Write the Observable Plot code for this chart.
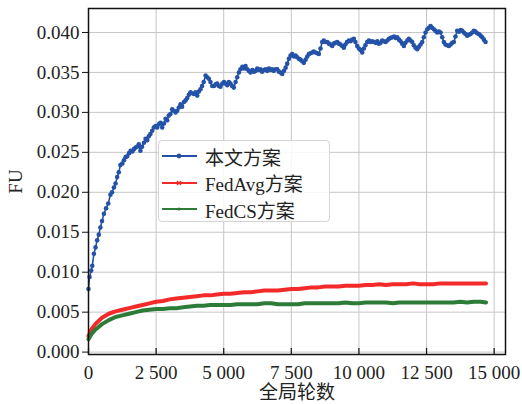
<!DOCTYPE html>
<html>
<head>
<meta charset="utf-8">
<script src="https://cdn.jsdelivr.net/npm/d3@7"></script>
<script src="https://cdn.jsdelivr.net/npm/@observablehq/plot@0.6"></script>
<style>
  body { margin: 0; background: #fff; }
  #wrap { position: relative; width: 522px; height: 404px; overflow: hidden; }
  #legend { position: absolute; left: 158px; top: 140px; width: 172px; height: 82px;
    box-sizing: border-box; border: 1px solid #d4d4d4; border-radius: 4px;
    background: rgba(255,255,255,0.85);
    font-family: 'Liberation Serif','Times New Roman','Noto Sans CJK SC',serif; font-size: 19px; color: #222; }
  .row { position: absolute; left: 0; height: 26px; display: flex; align-items: center; }
  .row svg { margin-left: 3px; }
  .row span { margin-left: 8px; white-space: nowrap; }
</style>
</head>
<body>
<div id="wrap">
  <div id="chart"></div>
  <div id="legend"></div>
</div>
<script>
// ---------- data ----------
const seriesNames = ["本文方案", "FedAvg方案", "FedCS方案"];
const seriesColors = ["#2452a8", "#f42a2a", "#2c7c38"];

const xTicks = [0, 2500, 5000, 7500, 10000, 12500, 15000];
const xTickLabels = ["0", "2 500", "5 000", "7 500", "10 000", "12 500", "15 000"];
const yTicks = [0, 0.005, 0.010, 0.015, 0.020, 0.025, 0.030, 0.035, 0.040];
const yTickLabels = ["0.000", "0.005", "0.010", "0.015", "0.020", "0.025", "0.030", "0.035", "0.040"];

const oursX = [0,40,100,140,200,260,320,380,440,500,570,650,730,810,870,940,1000,1060,1120,1180,1250,1310,1370,1430,1500,1560,1620,1680,1740,1800,1860,1920,1980,2050,2110,2170,2230,2290,2355,2415,2480,2540,2600,2660,2725,2790,2850,2910,2970,3030,3095,3150,3220,3280,3340,3400,3460,3530,3590,3650,3710,3770,3830,3900,3960,4020,4080,4140,4200,4260,4330,4390,4450,4510,4575,4640,4700,4760,4820,4880,4950,5010,5070,5130,5190,5250,5310,5374,5440,5500,5560,5620,5690,5750,5806,5870,5930,5990,6060,6120,6180,6240,6300,6360,6420,6490,6550,6610,6670,6730,6790,6850,6920,6980,7040,7100,7163,7230,7290,7348,7410,7470,7532,7600,7660,7717,7780,7840,7900,7963,8030,8090,8148,8210,8270,8330,8395,8460,8518,8580,8642,8700,8760,8827,8890,8950,9012,9070,9130,9197,9260,9320,9380,9443,9500,9560,9628,9690,9750,9813,9870,9937,10000,10060,10122,10180,10240,10307,10370,10430,10490,10554,10620,10680,10739,10800,10860,10920,10984,11050,11110,11170,11232,11300,11360,11416,11480,11540,11600,11661,11720,11790,11846,11910,11970,12030,12090,12155,12220,12280,12340,12400,12463,12530,12590,12648,12710,12771,12830,12894,12960,13018,13080,13140,13200,13260,13325,13390,13450,13510,13570,13634,13700,13760,13819,13880,13940,14004,14060,14127,14190,14250,14310,14370,14435,14500,14560,14620,14682];
const oursY = [.0079,.0094,.0102,.0108,.0123,.0131,.0140,.0147,.0156,.0164,.0173,.0180,.0186,.0197,.0200,.0206,.0211,.0219,.0225,.0234,.0236,.0240,.0244,.0245,.0249,.0252,.0251,.0254,.0256,.0257,.0260,.0252,.0257,.0262,.0267,.0265,.0270,.0273,.0277,.0281,.0283,.0281,.0285,.0287,.0281,.0286,.0292,.0290,.0296,.0298,.0304,.0302,.0300,.0302,.0306,.0310,.0307,.0313,.0315,.0318,.0322,.0325,.0324,.0323,.0325,.0321,.0326,.0329,.0333,.0338,.0346,.0344,.0342,.0338,.0333,.0333,.0335,.0336,.0333,.0332,.0336,.0338,.0336,.0334,.0338,.0336,.0333,.0331,.0338,.0344,.0350,.0354,.0357,.0355,.0358,.0354,.0352,.0350,.0353,.0351,.0352,.0355,.0353,.0354,.0351,.0353,.0354,.0352,.0355,.0353,.0354,.0352,.0354,.0354,.0351,.0350,.0348,.0352,.0356,.0361,.0367,.0371,.0373,.0370,.0371,.0369,.0367,.0366,.0364,.0362,.0366,.0370,.0373,.0374,.0375,.0376,.0375,.0374,.0373,.0380,.0388,.0390,.0388,.0388,.0386,.0385,.0383,.0386,.0387,.0388,.0386,.0385,.0383,.0381,.0385,.0388,.0390,.0389,.0391,.0392,.0388,.0383,.0380,.0378,.0375,.0380,.0384,.0388,.0390,.0388,.0389,.0388,.0387,.0389,.0386,.0387,.0390,.0389,.0388,.0390,.0392,.0393,.0394,.0395,.0393,.0394,.0391,.0389,.0386,.0383,.0387,.0390,.0392,.0390,.0388,.0384,.0381,.0379,.0382,.0385,.0388,.0394,.0400,.0404,.0406,.0408,.0406,.0404,.0402,.0400,.0401,.0400,.0394,.0388,.0385,.0384,.0383,.0385,.0387,.0388,.0395,.0402,.0401,.0403,.0402,.0400,.0398,.0396,.0397,.0398,.0400,.0402,.0401,.0399,.0398,.0396,.0394,.0391,.0388];

const baseX = [0,100,250,500,750,1000,1250,1500,1750,2000,2250,2500,2750,3000,3250,3500,3750,4000,4250,4500,4750,5000,5250,5500,5750,6000,6250,6500,6750,7000,7250,7500,7750,8000,8250,8500,8750,9000,9250,9500,9750,10000,10250,10500,10750,11000,11250,11500,11750,12000,12250,12500,12750,13000,13250,13500,13750,14000,14250,14500,14700];
const fedAvgY = [.0020,.0028,.0035,.0043,.0048,.0051,.0053,.0055,.0057,.0059,.0061,.0063,.0064,.0066,.0067,.0068,.0069,.0070,.0071,.0071,.0072,.0073,.0073,.0074,.0075,.0075,.0076,.0077,.0077,.0077,.0078,.0079,.0079,.0080,.0081,.0081,.0082,.0082,.0082,.0083,.0083,.0083,.0084,.0084,.0085,.0084,.0085,.0085,.0085,.0086,.0085,.0085,.0085,.0086,.0086,.0086,.0086,.0086,.0086,.0086,.0086];
const fedCSY = [.0016,.0022,.0028,.0035,.0040,.0044,.0046,.0048,.0050,.0052,.0053,.0054,.0054,.0055,.0055,.0056,.0057,.0058,.0058,.0059,.0059,.0059,.0059,.0060,.0060,.0060,.0060,.0061,.0061,.0060,.0060,.0060,.0060,.0061,.0061,.0061,.0061,.0061,.0061,.0062,.0061,.0061,.0062,.0062,.0062,.0062,.0061,.0062,.0062,.0062,.0062,.0062,.0062,.0062,.0062,.0062,.0063,.0062,.0063,.0063,.0062];

// ---------- build ----------
const ours = oursX.map((x, i) => ({x, y: oursY[i]}));
const avg = baseX.map((x, i) => ({x, y: fedAvgY[i]}));
const cs = baseX.map((x, i) => ({x, y: fedCSY[i]}));
const xLab = new Map(xTicks.map((t, i) => [t, xTickLabels[i]]));
const yLab = new Map(yTicks.map((t, i) => [t, yTickLabels[i]]));
const FONT = "'Liberation Serif','Times New Roman','Noto Sans CJK SC',serif";

const chart = Plot.plot({
  width: 522, height: 404,
  marginLeft: 88, marginRight: 17, marginTop: 8, marginBottom: 50,
  style: {fontFamily: FONT, fontSize: "19px", color: "#222", background: "#fff", overflow: "visible"},
  x: {domain: [0, 15420]},
  y: {domain: [-0.0003, 0.043]},
  marks: [
    Plot.gridX(xTicks, {stroke: "#c6c6c6", strokeOpacity: 1, strokeWidth: 1}),
    Plot.gridY(yTicks, {stroke: "#c6c6c6", strokeOpacity: 1, strokeWidth: 1}),
    Plot.line(avg, {x: "x", y: "y", stroke: seriesColors[1], strokeWidth: 4}),
    Plot.line(cs, {x: "x", y: "y", stroke: seriesColors[2], strokeWidth: 4}),
    Plot.line(ours, {x: "x", y: "y", stroke: seriesColors[0], strokeWidth: 1.6}),
    Plot.dot(ours, {x: "x", y: "y", fill: seriesColors[0], r: 2.3}),
    Plot.frame({stroke: "#111", strokeWidth: 1.5}),
    Plot.axisY(yTicks, {tickSize: 6, tickPadding: 3, tickFormat: d => yLab.get(d), label: null, stroke: "#111"}),
    Plot.tickX(xTicks, {x: d => d, insetTop: 340, stroke: "#111", strokeWidth: 1.2}),
    Plot.axisX(xTicks, {tickSize: 0, tickPadding: 11, tickFormat: d => xLab.get(d), label: null}),
    Plot.text(["FU"], {text: d => d, frameAnchor: "left", dx: -73, rotate: -90, textAnchor: "middle", lineAnchor: "middle", fontSize: 19, fill: "#222"}),
    Plot.text(["全局轮数"], {text: d => d, frameAnchor: "bottom", dy: 38, textAnchor: "middle", lineAnchor: "middle", fontSize: 19, fill: "#222"})
  ]
});
document.getElementById("chart").appendChild(chart);

// ---------- legend ----------
const legend = document.getElementById("legend");
seriesNames.forEach((name, i) => {
  const row = document.createElement("div");
  row.className = "row";
  row.style.top = (2 + i * 26.5) + "px";
  const c = seriesColors[i];
  let marker = "";
  if (i === 0) marker = `<circle cx="17" cy="7" r="2.4" fill="${c}"/>`;
  else if (i === 1) marker = `<path d="M15 5 L19 9 M19 5 L15 9" stroke="${c}" stroke-width="1.2"/>`;
  else marker = `<circle cx="17" cy="7" r="1.6" fill="${c}"/>`;
  row.innerHTML = `<svg width="35" height="14"><line x1="0" y1="7" x2="35" y2="7" stroke="${c}" stroke-width="1.8"/>${marker}</svg><span>${name}</span>`;
  legend.appendChild(row);
});
</script>
</body>
</html>
